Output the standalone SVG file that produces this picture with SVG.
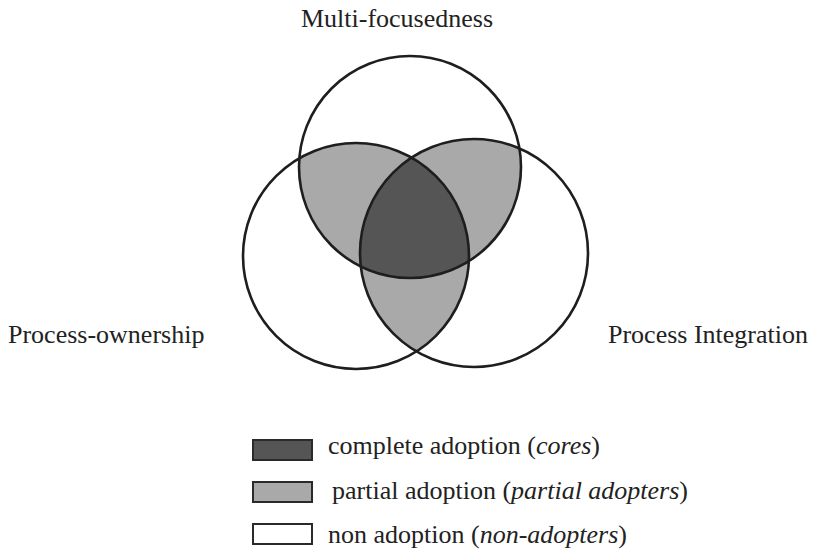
<svg xmlns="http://www.w3.org/2000/svg" width="818" height="552" viewBox="0 0 818 552">
  <style>
    .lbl { font-family: "Liberation Serif", "Times New Roman", serif; font-size: 26px; fill: #222; }
    .ring { fill: none; stroke: #1e1e1e; stroke-width: 2.6; }
    .partial { fill: #a9a9a9; }
    .core { fill: #555555; }
    .key { stroke: #2a2a2a; stroke-width: 2; }
  </style>
  <defs>
    <clipPath id="clipTop"><circle cx="410" cy="167" r="111"/></clipPath>
    <clipPath id="clipLeft"><circle cx="356" cy="256" r="113"/></clipPath>
    <clipPath id="clipRight"><circle cx="474" cy="253" r="114"/></clipPath>
  </defs>
  <rect width="818" height="552" fill="#ffffff"/>

  <!-- shaded overlap regions -->
  <g id="overlaps">
    <circle class="partial" cx="356" cy="256" r="113" clip-path="url(#clipTop)"/>
    <circle class="partial" cx="474" cy="253" r="114" clip-path="url(#clipTop)"/>
    <circle class="partial" cx="474" cy="253" r="114" clip-path="url(#clipLeft)"/>
    <g clip-path="url(#clipTop)">
      <g clip-path="url(#clipLeft)">
        <circle class="core" cx="474" cy="253" r="114"/>
      </g>
    </g>
  </g>

  <g id="multi-focusedness">
    <circle class="ring" cx="410" cy="167" r="111"/>
    <text class="lbl" x="397" y="27" text-anchor="middle">Multi-focusedness</text>
  </g>
  <g id="process-ownership">
    <circle class="ring" cx="356" cy="256" r="113"/>
    <text class="lbl" x="8" y="343">Process-ownership</text>
  </g>
  <g id="process-integration">
    <circle class="ring" cx="474" cy="253" r="114"/>
    <text class="lbl" x="608" y="343">Process Integration</text>
  </g>

  <!-- legend -->
  <g id="legend">
    <rect class="key core" x="253" y="440" width="59" height="20"/>
    <text class="lbl" x="328" y="454">complete adoption (<tspan font-style="italic">cores</tspan>)</text>
    <rect class="key partial" x="253" y="482" width="59" height="20"/>
    <text class="lbl" x="332" y="499">partial adoption (<tspan font-style="italic">partial adopters</tspan>)</text>
    <rect class="key" x="253" y="524" width="59" height="20" fill="#ffffff"/>
    <text class="lbl" x="328" y="543">non adoption (<tspan font-style="italic">non-adopters</tspan>)</text>
  </g>
</svg>
